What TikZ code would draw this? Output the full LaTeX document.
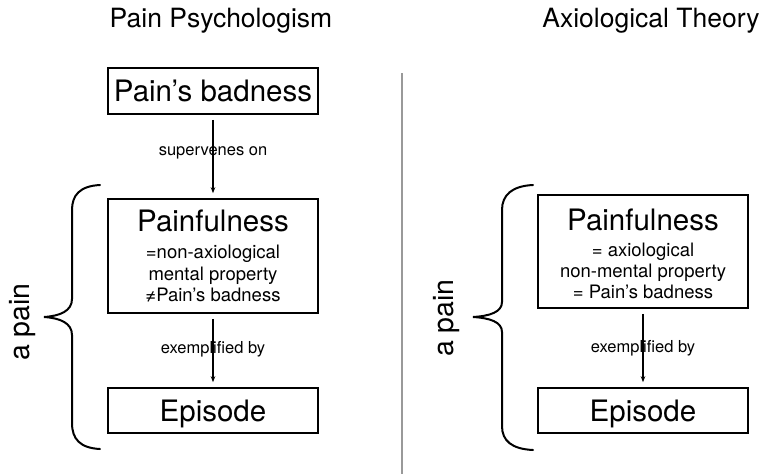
\documentclass[tikz,border=0pt]{standalone}
\usepackage{fontspec}
\setmainfont{TeX Gyre Heros}
\usetikzlibrary{arrows.meta}
\begin{document}
\begin{tikzpicture}[x=1pt,y=-1pt,
  box/.style={draw, line width=1.6pt, minimum width=210pt, inner sep=0pt},
  big/.style={font=\fontsize{29.5}{31}\selectfont},
  mid/.style={font=\fontsize{18.5}{21}\selectfont},
  lbl/.style={font=\fontsize{16.5}{18}\selectfont},
  ttl/.style={font=\fontsize{26.5}{28}\selectfont},
  side/.style={font=\fontsize{28.5}{30}\selectfont, rotate=90},
  conn/.style={line width=1.1pt, -{Stealth[length=6pt,width=4.5pt]}, shorten <=5pt, shorten >=5pt},
  bracestroke/.style={line width=2pt, line cap=round},
  sep/.style={draw=black!40, line width=1.3pt}]
\useasboundingbox (0,0) rectangle (765,474);

% titles
\node[ttl, anchor=base] (t1) at (221,27) {Pain Psychologism};
\node[ttl, anchor=base] (t2) at (651,27) {Axiological Theory};

% separator
\coordinate (s1) at (402,73);
\coordinate (s2) at (402,474);
\draw[sep] (s1) -- (s2);

% ---------------- left ----------------
\node[box, big, minimum height=46pt, text height=21pt, text depth=0pt] (pb) at (213,91) {Pain’s badness};
\node[box, minimum height=114pt] (pf) at (213,256) {};
\node[big, anchor=base] (pft) at (213,231) {Painfulness};
\node[mid, anchor=base] (pf1) at (213,258) {=non-axiological};
\node[mid, anchor=base] (pf2) at (213,280) {mental property};
\node[mid, anchor=base] (pf3) at (213,301.5) {≠Pain’s badness};
\node[box, big, minimum height=45pt, text height=21pt, text depth=0pt] (ep) at (213,410.5) {Episode};

\draw[conn] (pb) -- (pf);
\draw[conn] (pf) -- (ep);
\node[lbl, anchor=base] (l1) at (213,155) {supervenes on};
\node[lbl, anchor=base] (l2) at (213,353) {exemplified by};

\draw[bracestroke] (100,185) .. controls (80,186) and (72,195) .. (72,210) -- (72,299)
  .. controls (72,311) and (60,316) .. (44,317)
  .. controls (60,318) and (72,323) .. (72,335) -- (72,423)
  .. controls (72,439) and (80,448) .. (100,449);
\node[side] (ap1) at (23,322) {a pain};

% ---------------- right ----------------
\node[box, minimum height=113pt] (rpf) at (643,251.5) {};
\node[big, anchor=base] (rpft) at (643,230) {Painfulness};
\node[mid, anchor=base] (rpf1) at (643,256) {= axiological};
\node[mid, anchor=base] (rpf2) at (643,277) {non-mental property};
\node[mid, anchor=base] (rpf3) at (643,298.5) {= Pain’s badness};
\node[box, big, minimum height=45pt, text height=21pt, text depth=0pt] (rep) at (643,410.5) {Episode};

\draw[conn] (rpf) -- (rep);
\node[lbl, anchor=base] (l3) at (643,352) {exemplified by};

\draw[bracestroke] (533,185) .. controls (512,186) and (502,195) .. (502,210) -- (502,302)
  .. controls (502,312) and (490,316) .. (473,317)
  .. controls (490,318) and (502,322) .. (502,332) -- (502,426)
  .. controls (502,441) and (512,449) .. (533,450);
\node[side] (ap2) at (447,318) {a pain};
\end{tikzpicture}
\end{document}
